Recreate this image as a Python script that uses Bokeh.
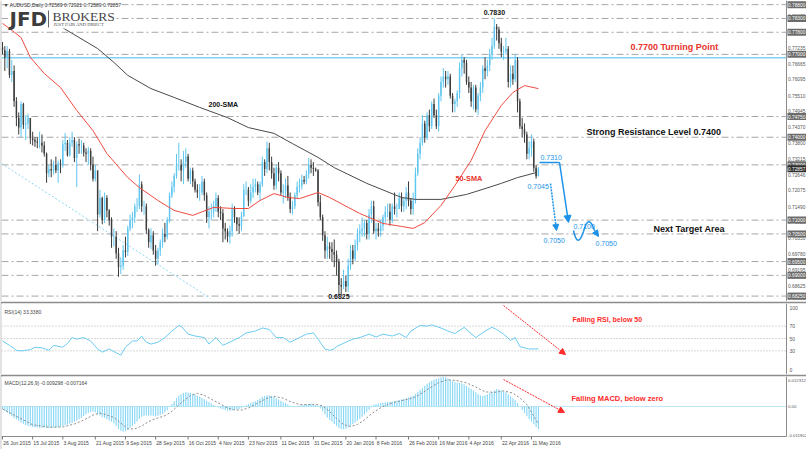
import numpy as np
from bokeh.plotting import figure
from bokeh.layouts import column
from bokeh.models import Range1d, Arrow, NormalHead
from bokeh.core.properties import value
from bokeh.embed import file_html
from bokeh.resources import INLINE

# ---------------- data ----------------
header = "\u25BC AUDUSD,Daily  0.72589 0.72921 0.72589 0.72857"
first_open = 0.7725
close = [
    0.7715, 0.7690, 0.7712, 0.7625, 0.7640, 0.7530, 0.7470, 0.7435, 0.7520, 0.7445,
    0.7450, 0.7470, 0.7395, 0.7390, 0.7385, 0.7380, 0.7380, 0.7370, 0.7340, 0.7270,
    0.7285, 0.7280, 0.7300, 0.7280, 0.7305, 0.7300, 0.7375, 0.7380, 0.7335, 0.7380,
    0.7390, 0.7325, 0.7375, 0.7370, 0.7370, 0.7345, 0.7340, 0.7350, 0.7300, 0.7250,
    0.7280, 0.7120, 0.7180, 0.7100, 0.7180, 0.7135, 0.7100, 0.7040, 0.7040, 0.6980,
    0.6930, 0.6935, 0.6990, 0.6985, 0.7070, 0.7100, 0.7110, 0.7150, 0.7150, 0.7230,
    0.7150, 0.7150, 0.7065, 0.7020, 0.7045, 0.6990, 0.6960, 0.6990, 0.7020, 0.7050,
    0.7040, 0.7100, 0.7190, 0.7220, 0.7260, 0.7300, 0.7300, 0.7280, 0.7310, 0.7330,
    0.7250, 0.7280, 0.7240, 0.7210, 0.7200, 0.7200, 0.7240, 0.7190, 0.7110, 0.7130,
    0.7130, 0.7150, 0.7180, 0.7130, 0.7125, 0.7070, 0.7060, 0.7040, 0.7060, 0.7140,
    0.7110, 0.7085, 0.7080, 0.7115, 0.7210, 0.7210, 0.7170, 0.7200, 0.7220, 0.7230,
    0.7200, 0.7230, 0.7310, 0.7285, 0.7360, 0.7310, 0.7270, 0.7225, 0.7290, 0.7270,
    0.7200, 0.7205, 0.7225, 0.7185, 0.7140, 0.7150, 0.7190, 0.7220, 0.7225, 0.7245,
    0.7240, 0.7265, 0.7300, 0.7290, 0.7285, 0.7280, 0.7165, 0.7110, 0.7045, 0.6990,
    0.7005, 0.6995, 0.6985, 0.6975, 0.6950, 0.6865, 0.6860, 0.6880, 0.6860, 0.6935,
    0.6990, 0.6960, 0.7010, 0.7050, 0.7060, 0.7070, 0.7090, 0.7050, 0.7120, 0.7150,
    0.7060, 0.7070, 0.7060, 0.7080, 0.7110, 0.7130, 0.7130, 0.7100, 0.7150, 0.7140,
    0.7140, 0.7180, 0.7150, 0.7170, 0.7200, 0.7170, 0.7140, 0.7170, 0.7270, 0.7340,
    0.7380, 0.7450, 0.7400, 0.7480, 0.7440, 0.7520, 0.7480, 0.7440, 0.7550, 0.7600,
    0.7620, 0.7610, 0.7620, 0.7550, 0.7520, 0.7530, 0.7560, 0.7650, 0.7680, 0.7670,
    0.7600, 0.7580, 0.7530, 0.7580, 0.7500, 0.7550, 0.7580, 0.7650, 0.7640, 0.7660,
    0.7700, 0.7730, 0.7800, 0.7790, 0.7740, 0.7710, 0.7710, 0.7720, 0.7600, 0.7630,
    0.7610, 0.7680, 0.7530, 0.7440, 0.7430, 0.7410, 0.7340, 0.7360, 0.7385, 0.7290,
    0.72589, 0.72857,
]
high = [
    0.7745, 0.7730, 0.7730, 0.7720, 0.7680, 0.7660, 0.7545, 0.7490, 0.7530, 0.7525,
    0.7480, 0.7485, 0.7470, 0.7420, 0.7400, 0.7400, 0.7420, 0.7410, 0.7385, 0.7345,
    0.7300, 0.7320, 0.7315, 0.7330, 0.7315, 0.7320, 0.7390, 0.7415, 0.7390, 0.7400,
    0.7420, 0.7400, 0.7385, 0.7395, 0.7390, 0.7380, 0.7360, 0.7365, 0.7360, 0.7330,
    0.7300, 0.7280, 0.7210, 0.7185, 0.7200, 0.7190, 0.7140, 0.7110, 0.7070, 0.7060,
    0.7000, 0.6965, 0.7010, 0.7040, 0.7080, 0.7120, 0.7130, 0.7160, 0.7180, 0.7265,
    0.7240, 0.7170, 0.7160, 0.7070, 0.7070, 0.7060, 0.7010, 0.7000, 0.7030, 0.7070,
    0.7090, 0.7110, 0.7200, 0.7240, 0.7270, 0.7340, 0.7380, 0.7320, 0.7350, 0.7360,
    0.7340, 0.7290, 0.7290, 0.7250, 0.7230, 0.7230, 0.7260, 0.7250, 0.7200, 0.7150,
    0.7160, 0.7170, 0.7200, 0.7190, 0.7150, 0.7140, 0.7090, 0.7070, 0.7080, 0.7160,
    0.7150, 0.7110, 0.7110, 0.7130, 0.7230, 0.7240, 0.7220, 0.7230, 0.7250, 0.7250,
    0.7240, 0.7240, 0.7330, 0.7320, 0.7385, 0.7380, 0.7330, 0.7290, 0.7300, 0.7310,
    0.7280, 0.7230, 0.7250, 0.7260, 0.7200, 0.7170, 0.7200, 0.7240, 0.7250, 0.7265,
    0.7260, 0.7280, 0.7325, 0.7320, 0.7310, 0.7290, 0.7285, 0.7190, 0.7120, 0.7060,
    0.7040, 0.7020, 0.7020, 0.7030, 0.6990, 0.6960, 0.6890, 0.6920, 0.6900, 0.6960,
    0.7010, 0.7010, 0.7030, 0.7070, 0.7085, 0.7110, 0.7100, 0.7100, 0.7140, 0.7170,
    0.7170, 0.7090, 0.7090, 0.7100, 0.7120, 0.7150, 0.7160, 0.7160, 0.7160, 0.7200,
    0.7160, 0.7200, 0.7200, 0.7180, 0.7220, 0.7240, 0.7180, 0.7200, 0.7290, 0.7360,
    0.7400, 0.7480, 0.7460, 0.7490, 0.7500, 0.7530, 0.7540, 0.7500, 0.7560, 0.7620,
    0.7650, 0.7640, 0.7640, 0.7630, 0.7560, 0.7540, 0.7570, 0.7670, 0.7700, 0.7690,
    0.7680, 0.7620, 0.7600, 0.7590, 0.7590, 0.7560, 0.7600, 0.7660, 0.7690, 0.7680,
    0.7720, 0.7760, 0.7830, 0.7810, 0.7800, 0.7760, 0.7730, 0.7760, 0.7730, 0.7660,
    0.7660, 0.7700, 0.7690, 0.7540, 0.7470, 0.7450, 0.7420, 0.7385, 0.7410, 0.7395,
    0.7300, 0.72921,
]
low = [
    0.7700, 0.7640, 0.7650, 0.7615, 0.7600, 0.7510, 0.7440, 0.7410, 0.7400, 0.7430,
    0.7390, 0.7430, 0.7375, 0.7370, 0.7365, 0.7360, 0.7360, 0.7345, 0.7330, 0.7235,
    0.7255, 0.7255, 0.7265, 0.7270, 0.7235, 0.7270, 0.7290, 0.7350, 0.7330, 0.7330,
    0.7365, 0.7310, 0.7220, 0.7340, 0.7340, 0.7330, 0.7310, 0.7300, 0.7280, 0.7240,
    0.7240, 0.7060, 0.7110, 0.7085, 0.7090, 0.7110, 0.7080, 0.7000, 0.7005, 0.6960,
    0.6895, 0.6905, 0.6920, 0.6965, 0.6970, 0.7060, 0.7070, 0.7090, 0.7130, 0.7140,
    0.7130, 0.7120, 0.7050, 0.7000, 0.6995, 0.6975, 0.6935, 0.6940, 0.6970, 0.7000,
    0.7020, 0.7030, 0.7090, 0.7180, 0.7200, 0.7250, 0.7280, 0.7240, 0.7230, 0.7290,
    0.7240, 0.7230, 0.7220, 0.7200, 0.7180, 0.7170, 0.7190, 0.7170, 0.7090, 0.7070,
    0.7100, 0.7110, 0.7130, 0.7110, 0.7100, 0.7020, 0.7030, 0.7020, 0.7015, 0.7040,
    0.7090, 0.7060, 0.7050, 0.7060, 0.7110, 0.7190, 0.7150, 0.7160, 0.7180, 0.7200,
    0.7190, 0.7170, 0.7220, 0.7260, 0.7270, 0.7280, 0.7250, 0.7210, 0.7210, 0.7240,
    0.7190, 0.7160, 0.7180, 0.7170, 0.7125, 0.7120, 0.7140, 0.7180, 0.7200, 0.7210,
    0.7230, 0.7230, 0.7250, 0.7270, 0.7260, 0.7275, 0.7150, 0.7100, 0.7025, 0.6960,
    0.6960, 0.6960, 0.6950, 0.6930, 0.6900, 0.6826, 0.6830, 0.6850, 0.6840, 0.6840,
    0.6920, 0.6940, 0.6950, 0.6990, 0.7020, 0.7040, 0.7040, 0.7030, 0.7030, 0.7090,
    0.7050, 0.7030, 0.7040, 0.7040, 0.7060, 0.7090, 0.7110, 0.7080, 0.7090, 0.7120,
    0.7110, 0.7140, 0.7130, 0.7130, 0.7140, 0.7150, 0.7120, 0.7120, 0.7160, 0.7260,
    0.7320, 0.7370, 0.7380, 0.7390, 0.7420, 0.7430, 0.7470, 0.7430, 0.7420, 0.7530,
    0.7580, 0.7580, 0.7590, 0.7540, 0.7490, 0.7490, 0.7510, 0.7540, 0.7620, 0.7630,
    0.7590, 0.7560, 0.7510, 0.7500, 0.7490, 0.7480, 0.7530, 0.7560, 0.7610, 0.7620,
    0.7640, 0.7680, 0.7720, 0.7750, 0.7720, 0.7690, 0.7680, 0.7700, 0.7580, 0.7580,
    0.7590, 0.7600, 0.7490, 0.7430, 0.7400, 0.7380, 0.7320, 0.7320, 0.7330, 0.7275,
    0.7250, 0.72589,
]

date_tick_idx = [0, 13, 26, 40, 53, 66, 80, 93, 106, 120, 134, 148, 161, 175, 188, 201, 215, 228]
date_tick_labels = ["26 Jun 2015", "15 Jul 2015", "3 Aug 2015", "21 Aug 2015", "9 Sep 2015",
                    "28 Sep 2015", "16 Oct 2015", "4 Nov 2015", "23 Nov 2015", "11 Dec 2015",
                    "31 Dec 2015", "20 Jan 2016", "8 Feb 2016", "26 Feb 2016", "16 Mar 2016",
                    "4 Apr 2016", "22 Apr 2016", "11 May 2016"]

price_ticks = [0.68055, 0.68625, 0.69195, 0.69780, 0.70350, 0.70920, 0.71490, 0.72075,
               0.72646, 0.73215, 0.73800, 0.74370, 0.74945, 0.75510, 0.76095, 0.76665,
               0.77235, 0.77805, 0.78375]
key_levels = [0.7880, 0.7830, 0.7780, 0.7700, 0.7475, 0.7400, 0.7300,
              0.7100, 0.7050, 0.6950, 0.6900, 0.6825]
last_price = 0.72857
turning_level = 0.7688

sma200_idx = [16, 25, 41, 48, 54, 64, 74, 85, 97, 106, 117, 125, 136, 143, 157, 172, 178, 189, 200, 208, 215, 222, 230]
sma200_val = [0.7841, 0.7801, 0.7721, 0.7671, 0.7624, 0.7576, 0.7544, 0.7508, 0.7471, 0.7435,
              0.7414, 0.7377, 0.7327, 0.7290, 0.7233, 0.7182, 0.7175, 0.7175, 0.7193, 0.7214,
              0.7233, 0.7254, 0.7272]
sma50_idx = [0, 3, 8, 12, 18, 25, 32, 39, 45, 54, 59, 67, 74, 82, 91, 100, 106, 111, 117,
             123, 128, 136, 141, 149, 154, 164, 172, 177, 182, 189, 195, 202, 208, 215, 220, 225, 231]
sma50_val = [0.7812, 0.7794, 0.7761, 0.7689, 0.7631, 0.7580, 0.7497, 0.7424, 0.7341, 0.7254,
             0.7218, 0.7171, 0.7135, 0.7117, 0.7146, 0.7142, 0.7142, 0.7171, 0.7196,
             0.7182, 0.7178, 0.7200, 0.7182, 0.7146, 0.7124, 0.7088, 0.7077, 0.7070,
             0.7091, 0.7153, 0.7225, 0.7316, 0.7424, 0.7515, 0.7562, 0.7587, 0.7576]

rsi_idx = [0, 3, 6, 8, 12, 14, 17, 20, 22, 26, 28, 30, 32, 35, 38, 41, 43, 46, 49, 51, 53,
           56, 58, 60, 62, 64, 67, 70, 73, 76, 77, 80, 83, 87, 89, 92, 95, 99, 102, 105, 109,
           112, 115, 118, 121, 124, 128, 131, 134, 136, 139, 141, 143, 144, 148, 151, 154,
           158, 161, 164, 168, 171, 174, 176, 180, 183, 185, 189, 192, 195, 199, 202, 204,
           208, 211, 213, 216, 219, 221, 223, 227, 231]
rsi_val = [46, 39, 31, 30, 32, 36, 35, 31, 39, 36, 42, 51.5, 49, 51.5, 46, 33, 28, 33, 27, 23, 36,
           46, 46, 54, 44, 41, 44, 51.5, 62, 71, 70, 57, 54, 51.5, 41, 51.5, 39, 46, 51.5, 59, 62,
           67, 64.5, 51.5, 51.5, 44, 51.5, 57, 59, 49, 33, 31, 33, 37, 44, 49, 51.5,
           57, 52.5, 57, 54, 58, 51.5, 62, 71, 70, 72, 67, 62, 58, 68, 58, 51.5,
           62, 68, 64.5, 57, 47, 51.5, 37, 33, 33.3]
rsi_levels = [70, 50, 30]
rsi_ticks = [100, 70, 50, 30, 0]
rsi_title = "RSI(14) 33.3380"

macd_hist = [
    -0.0010, -0.0018, -0.0025, -0.0032, -0.0040, -0.0047, -0.0053, -0.0060, -0.0066, -0.0071,
    -0.0076, -0.0079, -0.0082, -0.0084, -0.0085, -0.0086, -0.0087, -0.0087, -0.0086, -0.0087,
    -0.0088, -0.0087, -0.0086, -0.0086, -0.0085, -0.0083, -0.0080, -0.0077, -0.0074, -0.0071,
    -0.0068, -0.0063, -0.0058, -0.0052, -0.0046, -0.0039, -0.0032, -0.0027, -0.0023, -0.0021,
    -0.0024, -0.0032, -0.0037, -0.0044, -0.0047, -0.0052, -0.0057, -0.0062, -0.0070, -0.0080,
    -0.0092, -0.0100, -0.0104, -0.0102, -0.0095, -0.0088, -0.0080, -0.0072, -0.0062, -0.0050,
    -0.0042, -0.0038, -0.0037, -0.0038, -0.0037, -0.0039, -0.0040, -0.0038, -0.0035, -0.0030,
    -0.0024, -0.0015, -0.0003, 0.0010, 0.0022, 0.0035, 0.0044, 0.0050, 0.0055, 0.0058,
    0.0057, 0.0055, 0.0052, 0.0048, 0.0044, 0.0040, 0.0035, 0.0030, 0.0024, 0.0018,
    0.0012, 0.0006, 0.0001, -0.0004, -0.0008, -0.0011, -0.0014, -0.0016, -0.0017, -0.0016,
    -0.0013, -0.0011, -0.0010, -0.0008, -0.0002, 0.0005, 0.0010, 0.0014, 0.0018, 0.0022,
    0.0027, 0.0033, 0.0040, 0.0043, 0.0046, 0.0045, 0.0043, 0.0039, 0.0034, 0.0029,
    0.0024, 0.0018, 0.0013, 0.0008, 0.0003, 0.0000, -0.0001, 0.0001, 0.0003, 0.0005,
    0.0007, 0.0009, 0.0010, 0.0011, 0.0009, 0.0006, 0.0001, -0.0008, -0.0020, -0.0032,
    -0.0045, -0.0055, -0.0063, -0.0072, -0.0080, -0.0088, -0.0092, -0.0093, -0.0091, -0.0086,
    -0.0079, -0.0072, -0.0066, -0.0058, -0.0050, -0.0042, -0.0033, -0.0024, -0.0013, -0.0003,
    0.0006, 0.0010, 0.0012, 0.0014, 0.0015, 0.0017, 0.0018, 0.0020, 0.0021, 0.0023,
    0.0025, 0.0027, 0.0029, 0.0031, 0.0034, 0.0037, 0.0041, 0.0045, 0.0052, 0.0060,
    0.0068, 0.0076, 0.0085, 0.0093, 0.0100, 0.0106, 0.0110, 0.0113, 0.0116, 0.0119,
    0.0123, 0.0120, 0.0115, 0.0110, 0.0104, 0.0100, 0.0097, 0.0096, 0.0094, 0.0090,
    0.0084, 0.0078, 0.0072, 0.0066, 0.0058, 0.0050, 0.0045, 0.0043, 0.0046, 0.0050,
    0.0055, 0.0060, 0.0066, 0.0072, 0.0070, 0.0066, 0.0062, 0.0058, 0.0050, 0.0042,
    0.0034, 0.0026, 0.0014, 0.0000, -0.0014, -0.0027, -0.0040, -0.0052, -0.0063, -0.0073,
    -0.0084, -0.0093,
]
signal_idx = [0, 7, 13, 20, 26, 31, 35, 39, 42, 45, 48, 51, 54, 57, 60, 63, 66, 70, 73, 77, 81,
              84, 87, 90, 94, 97, 100, 103, 106, 110, 114, 117, 121, 124, 128, 132, 135, 138,
              141, 144, 147, 150, 153, 156, 159, 163, 167, 172, 177, 180, 184, 188, 192, 196,
              200, 204, 208, 212, 216, 220, 223, 226, 229, 231]
signal_val = [-0.0010, -0.0045, -0.0075, -0.0085, -0.0084, -0.0072, -0.0056, -0.0035, -0.0027,
              -0.0035, -0.0045, -0.0068, -0.0092, -0.0092, -0.0080, -0.0062, -0.0050, -0.0038,
              -0.0020, 0.0015, 0.0045, 0.0054, 0.0046, 0.0030, 0.0010, -0.0006, -0.0014, -0.0015,
              -0.0006, 0.0014, 0.0034, 0.0042, 0.0034, 0.0020, 0.0008, 0.0008, 0.0009, 0.0002,
              -0.0020, -0.0050, -0.0074, -0.0082, -0.0074, -0.0055, -0.0030, -0.0005, 0.0012,
              0.0024, 0.0035, 0.0050, 0.0075, 0.0098, 0.0110, 0.0106, 0.0097, 0.0080, 0.0060,
              0.0058, 0.0064, 0.0055, 0.0035, 0.0008, -0.0040, -0.0072]
macd_ticks = [0.012312, 0.0, -0.011902]
macd_tick_labels = ["0.012312", "0.00", "-0.011902"]
macd_title = "MACD(12,26,9) -0.009298 -0.007164"

# ---------------- geometry (canvas pixels -> data) ----------------
K = 2.32          # px per bar
X0PX = 2.0        # canvas x of bar 0
def xi(px):
    return (px - X0PX) / K
AX = xi(786)      # right axis position
def yp(py):       # main panel
    return 0.7895 - py * 0.000362
def rv(py):       # RSI panel
    return (369.0 - py) / 0.62
def mv(py):       # MACD panel
    return 0.012312 - (py - 376.0) * 0.00041041

xr = Range1d(xi(1), xi(806))
FONT = "Liberation Sans"
BULL, BEAR = "#5fc6ef", "#3c3c3c"
AXC, LBL = "#8a8a8a", "#555555"


def mkfig(h, yr, top):
    p = figure(width=806, height=h, x_range=xr, y_range=yr, output_backend="svg",
               toolbar_location=None, x_axis_type=None, y_axis_type=None,
               min_border_left=1, min_border_right=0, min_border_top=top, min_border_bottom=0)
    p.outline_line_color = None
    p.border_fill_color = "#8c8c8c"
    p.background_fill_color = "white"
    return p


def txt(p, xs, ys, ss, size, color, bold=False, align="left", font=FONT, baseline="middle"):
    p.text(x=xs, y=ys, text=ss, text_font=value(font), text_font_size=f"{size}px",
           text_color=color, text_align=align, text_baseline=baseline,
           text_font_style="bold" if bold else "normal")


# ================= main price panel =================
p1 = mkfig(301, Range1d(yp(301), yp(0)), 0)
n = len(close)
idx = np.arange(n)
op = np.array([first_open] + close[:-1])
cl = np.array(close)
hi = np.maximum(np.array(high), np.maximum(op, cl))
lo = np.minimum(np.array(low), np.minimum(op, cl))
col = [BULL if c >= o else BEAR for o, c in zip(op, cl)]

# key levels
p1.segment(x0=[xi(1)] * len(key_levels), y0=key_levels, x1=[AX] * len(key_levels), y1=key_levels,
           line_color="#a6a6a6", line_width=1, line_dash="7 3 2 3")
p1.segment(x0=[xi(1)], y0=[turning_level], x1=[AX], y1=[turning_level], line_color="#7fd2f5", line_width=1.5)
# light trend line
p1.line(x=[xi(1), xi(210)], y=[yp(163), yp(298)], line_color="#8fd6f3", line_width=1, line_dash="2 2")

# candles
p1.segment(x0=idx, y0=lo, x1=idx, y1=hi, line_color=col, line_width=1)
p1.vbar(x=idx, width=0.62, top=np.maximum(op, cl), bottom=np.minimum(op, cl),
        fill_color=col, line_color=None)

# moving averages
p1.line(x=sma200_idx, y=sma200_val, line_color="#4a4a4a", line_width=1)
p1.line(x=sma50_idx, y=sma50_val, line_color="#ef4b41", line_width=1)

# logo box
p1.quad(left=[xi(8)], right=[xi(114)], top=[yp(7)], bottom=[yp(28)], fill_color="white", line_color=None)
txt(p1, [xi(9)], [yp(18)], ["JFD"], 20, "#3d3d3d", bold=True, font="DejaVu Sans")
p1.segment(x0=[xi(48)], y0=[yp(10)], x1=[xi(48)], y1=[yp(27)], line_color="#666666", line_width=1)
txt(p1, [xi(52)], [yp(16)], ["BROKERS"], 13.5, "#474747", font="Liberation Serif")
txt(p1, [xi(53)], [yp(24)], ["JUST FAIR AND DIRECT"], 4.6, "#474747", font="Liberation Serif")
txt(p1, [xi(3)], [yp(4)], [header], 5, "#333333")

# annotations
txt(p1, [xi(208)], [yp(104)], ["200-SMA"], 7, "#111111", bold=True)
txt(p1, [xi(455)], [yp(178)], ["50-SMA"], 7.3, "#e8332b", bold=True)
pk = int(np.argmax(hi))
tr = int(np.argmin(lo))
txt(p1, [pk], [yp(12)], ["0.7830"], 7, "#111111", bold=True, align="center")
txt(p1, [tr], [yp(296)], ["0.6825"], 7, "#111111", bold=True, align="center")
txt(p1, [xi(630)], [yp(46)], ["0.7700 Turning Point"], 9, "#e8332b", bold=True)
txt(p1, [xi(586)], [yp(131)], ["Strong Resistance Level 0.7400"], 9, "#111111", bold=True)
txt(p1, [xi(653)], [yp(228)], ["Next Target Area"], 9, "#111111", bold=True)

BLUE = "#1c92e8"
txt(p1, [xi(540)], [yp(157)], ["0.7310"], 7, BLUE)
txt(p1, [xi(527)], [yp(186)], ["0.7045"], 7, BLUE)
txt(p1, [xi(573)], [yp(226)], ["0.7100"], 7, BLUE)
txt(p1, [xi(543)], [yp(240)], ["0.7050"], 7, BLUE)
txt(p1, [xi(595)], [yp(243)], ["0.7050"], 7, BLUE)
p1.segment(x0=[xi(539)], y0=[yp(162)], x1=[xi(559)], y1=[yp(162)], line_color=BLUE, line_width=1.5)
p1.add_layout(Arrow(end=NormalHead(size=7, fill_color=BLUE, line_color=BLUE),
                    x_start=xi(559), y_start=yp(162), x_end=xi(568), y_end=yp(222),
                    line_color=BLUE, line_width=1.5))
p1.add_layout(Arrow(end=NormalHead(size=6, fill_color=BLUE, line_color=BLUE),
                    x_start=xi(550), y_start=yp(183), x_end=xi(556), y_end=yp(230),
                    line_color=BLUE, line_width=1.5, line_dash="2 1"))
p1.quadratic(x0=[xi(573), xi(583)], y0=[yp(230), yp(231)], x1=[xi(583), xi(594)], y1=[yp(231), yp(230)],
             cx=[xi(577), xi(588)], cy=[yp(249), yp(212)], line_color=BLUE, line_width=1.5)
p1.add_layout(Arrow(end=NormalHead(size=6, fill_color=BLUE, line_color=BLUE),
                    x_start=xi(594), y_start=yp(230), x_end=xi(598), y_end=yp(236),
                    line_color=BLUE, line_width=1.5))

# right price axis
p1.segment(x0=[AX], y0=[yp(0)], x1=[AX], y1=[yp(301)], line_color=AXC, line_width=1)
tick_y = [max(v, yp(297)) for v in price_ticks]
txt(p1, [xi(787.5)] * len(price_ticks), tick_y, [f"{v:.5f}" for v in price_ticks], 4.8, LBL)
box_w, box_h = 20 / K, 7 * 0.000362
p1.rect(x=[xi(797)] * len(key_levels), y=key_levels, width=box_w, height=box_h,
        fill_color="#6b6b6b", line_color=None)
txt(p1, [xi(787.5)] * len(key_levels), key_levels, [f"{v:.5f}" for v in key_levels], 4.8, "white")
p1.rect(x=[xi(797)], y=[last_price], width=box_w, height=box_h, fill_color="#2f2f2f", line_color=None)
txt(p1, [xi(787.5)], [last_price], [f"{last_price:.5f}"], 4.8, "white")

# ================= RSI panel =================
p2 = mkfig(73, Range1d(rv(374), rv(303)), 2)
p2.segment(x0=[xi(1)] * 3, y0=rsi_levels, x1=[AX] * 3, y1=rsi_levels,
           line_color="#b3b3b3", line_width=1, line_dash="1 2")
p2.line(x=rsi_idx, y=rsi_val, line_color="#6ccbf0", line_width=1)
p2.segment(x0=[AX], y0=[rv(303)], x1=[AX], y1=[rv(374)], line_color=AXC, line_width=1)
txt(p2, [xi(789)] * len(rsi_ticks), rsi_ticks, [str(v) for v in rsi_ticks], 5, LBL)
txt(p2, [xi(4)], [rv(311)], [rsi_title], 5, "#444444")
RED = "#ff2a2a"
p2.add_layout(Arrow(end=NormalHead(size=6, fill_color=RED, line_color=RED),
                    x_start=xi(503), y_start=rv(305), x_end=xi(565), y_end=rv(354),
                    line_color=RED, line_width=1, line_dash="2 1"))
txt(p2, [xi(572)], [rv(319)], ["Falling RSI, below 50"], 7, RED, bold=True)

# ================= MACD panel =================
p3 = mkfig(75, Range1d(mv(449), mv(376)), 2)
mh = np.array(macd_hist)
p3.vbar(x=idx, width=0.5, top=np.maximum(mh, 0), bottom=np.minimum(mh, 0),
        fill_color="#8ad8f6", line_color=None)
p3.segment(x0=[xi(1)], y0=[0], x1=[AX], y1=[0], line_color="#7fd0f2", line_width=1, line_dash="1 1")
p3.line(x=signal_idx, y=signal_val, line_color="#8c8c8c", line_width=1, line_dash="2 2")
p3.segment(x0=[AX], y0=[mv(376)], x1=[AX], y1=[mv(436)], line_color=AXC, line_width=1)
p3.segment(x0=[xi(1)], y0=[mv(436)], x1=[AX], y1=[mv(436)], line_color=AXC, line_width=1)
macd_label_y = [min(v, mv(380)) for v in macd_ticks]
txt(p3, [xi(787.5)] * 3, macd_label_y, macd_tick_labels, 4.3, LBL)
txt(p3, [xi(4)], [mv(382)], [macd_title], 5, "#444444")
p3.add_layout(Arrow(end=NormalHead(size=6, fill_color=RED, line_color=RED),
                    x_start=xi(503), y_start=mv(379), x_end=xi(564), y_end=mv(412),
                    line_color=RED, line_width=1, line_dash="2 1"))
txt(p3, [xi(571)], [mv(398)], ["Falling MACD, below zero"], 7.5, RED, bold=True)
# date axis
p3.segment(x0=date_tick_idx, y0=[mv(436)] * len(date_tick_idx), x1=date_tick_idx,
           y1=[mv(439)] * len(date_tick_idx), line_color="#777777", line_width=1)
txt(p3, [t + 0.3 for t in date_tick_idx], [mv(442)] * len(date_tick_idx), date_tick_labels, 5, "#444444")

layout = column(p1, p2, p3)
open("out.html", "w").write(file_html(layout, INLINE))
